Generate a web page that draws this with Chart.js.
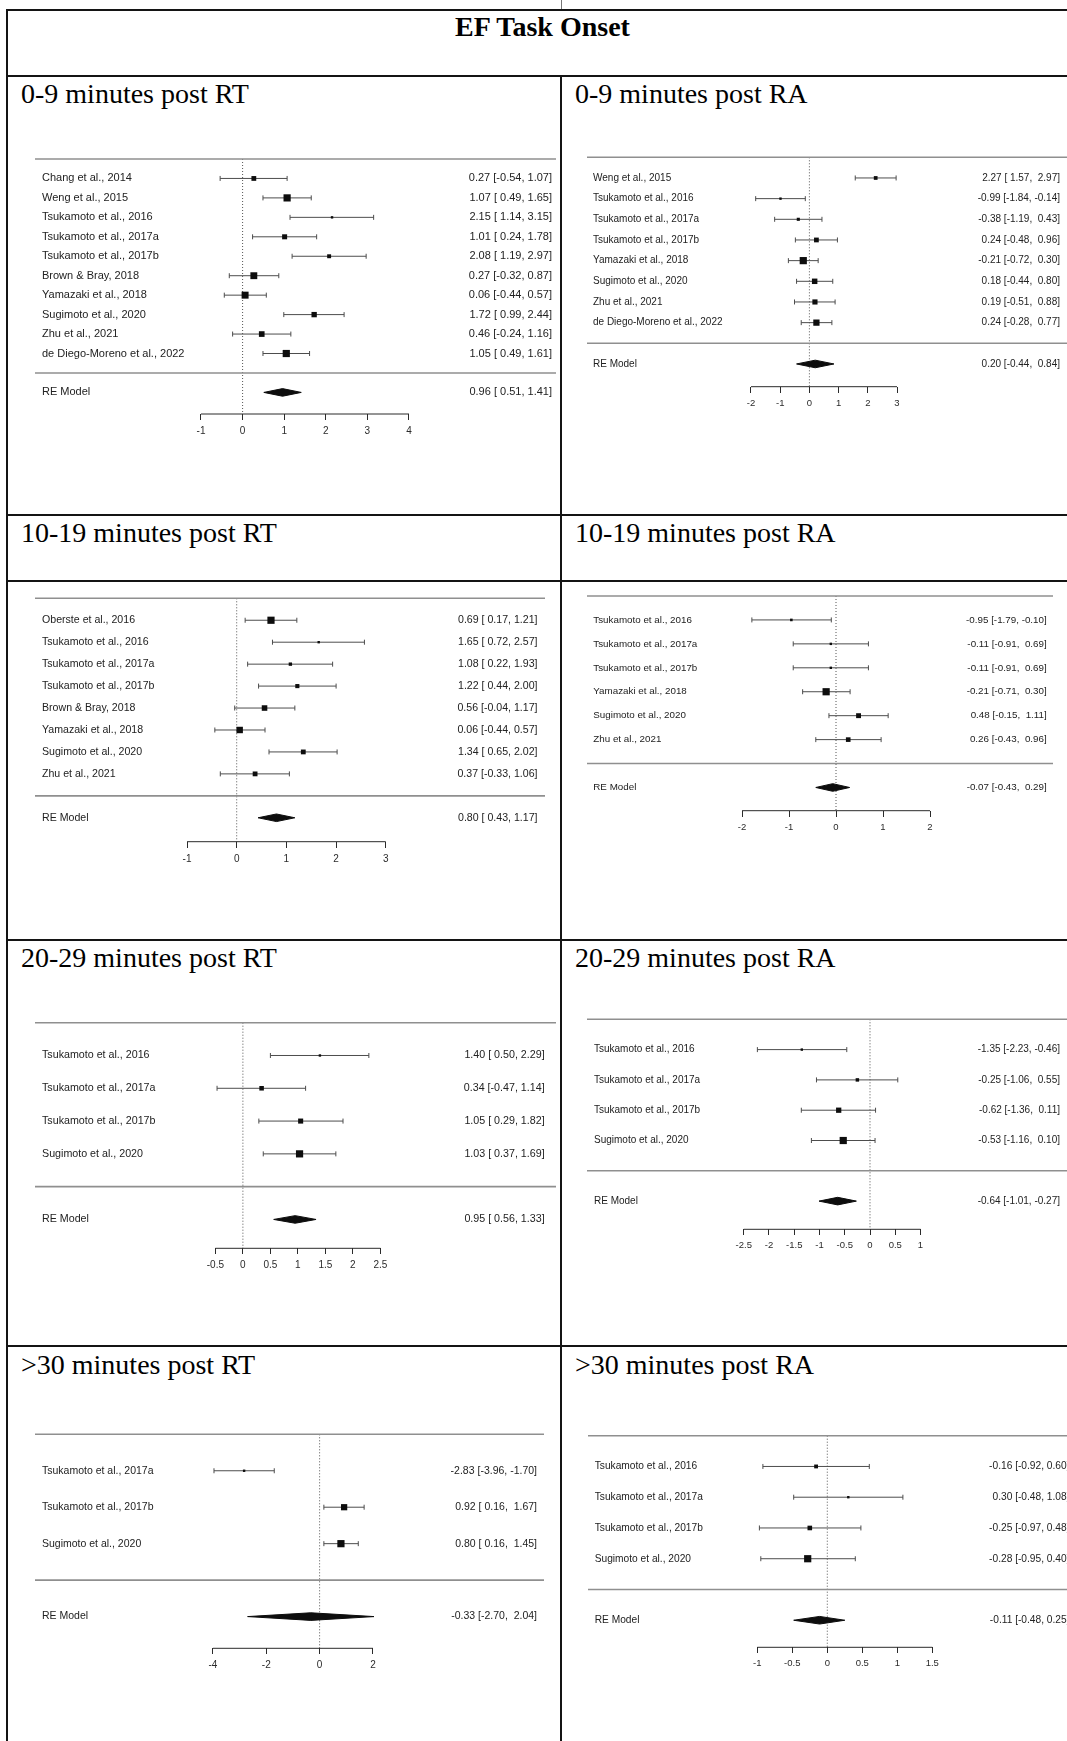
<!DOCTYPE html>
<html>
<head>
<meta charset="utf-8">
<title>EF Task Onset</title>
<script src="https://cdn.jsdelivr.net/npm/chart.js@4.4.1/dist/chart.umd.min.js"></script>
<style>
  html, body { margin: 0; padding: 0; background: #fff; }
  #page { position: relative; width: 1067px; height: 1741px; overflow: hidden; background: #fff; }
  .rule { position: absolute; background: #141414; }
  .title { position: absolute; font-family: "Liberation Serif", "Times New Roman", serif; font-size: 28px;
           line-height: 28px; color: #000; white-space: nowrap; }
  .head { font-weight: bold; text-align: center; }
  canvas { position: absolute; }
</style>
</head>
<body>
<div id="page"></div>
<script>
// ---------- data ----------
const sectionTitle = 'EF Task Onset';
const windowLabels = ['0-9 minutes', '10-19 minutes', '20-29 minutes', '>30 minutes'];
const conditionLabels = ['RT', 'RA'];

// 0-9 minutes post RT
const rt0Studies = ['Chang et al., 2014', 'Weng et al., 2015', 'Tsukamoto et al., 2016', 'Tsukamoto et al., 2017a',
  'Tsukamoto et al., 2017b', 'Brown & Bray, 2018', 'Yamazaki et al., 2018', 'Sugimoto et al., 2020',
  'Zhu et al., 2021', 'de Diego-Moreno et al., 2022'];
const rt0Effect = [0.27, 1.07, 2.15, 1.01, 2.08, 0.27, 0.06, 1.72, 0.46, 1.05];
const rt0Lower = [-0.54, 0.49, 1.14, 0.24, 1.19, -0.32, -0.44, 0.99, -0.24, 0.49];
const rt0Upper = [1.07, 1.65, 3.15, 1.78, 2.97, 0.87, 0.57, 2.44, 1.16, 1.61];
const rt0Weight = [9.4, 11.6, 7.2, 9.6, 8.6, 11.3, 11.4, 9.9, 10.2, 11.6];
const rt0Pooled = [0.96, 0.51, 1.41];
const rt0Ticks = [-1, 0, 1, 2, 3, 4];

// 0-9 minutes post RA
const ra0Studies = ['Weng et al., 2015', 'Tsukamoto et al., 2016', 'Tsukamoto et al., 2017a', 'Tsukamoto et al., 2017b',
  'Yamazaki et al., 2018', 'Sugimoto et al., 2020', 'Zhu et al., 2021', 'de Diego-Moreno et al., 2022'];
const ra0Effect = [2.27, -0.99, -0.38, 0.24, -0.21, 0.18, 0.19, 0.24];
const ra0Lower = [1.57, -1.84, -1.19, -0.48, -0.72, -0.44, -0.51, -0.28];
const ra0Upper = [2.97, -0.14, 0.43, 0.96, 0.30, 0.80, 0.88, 0.77];
const ra0Weight = [11.2, 9.5, 10.4, 12.5, 15.6, 13.4, 13.0, 14.4];
const ra0Pooled = [0.20, -0.44, 0.84];
const ra0Ticks = [-2, -1, 0, 1, 2, 3];

// 10-19 minutes post RT
const rt10Studies = ['Oberste et al., 2016', 'Tsukamoto et al., 2016', 'Tsukamoto et al., 2017a', 'Tsukamoto et al., 2017b',
  'Brown & Bray, 2018', 'Yamazaki et al., 2018', 'Sugimoto et al., 2020', 'Zhu et al., 2021'];
const rt10Effect = [0.69, 1.65, 1.08, 1.22, 0.56, 0.06, 1.34, 0.37];
const rt10Lower = [0.17, 0.72, 0.22, 0.44, -0.04, -0.44, 0.65, -0.33];
const rt10Upper = [1.21, 2.57, 1.93, 2.00, 1.17, 0.57, 2.02, 1.06];
const rt10Weight = [16.0, 9.0, 10.4, 11.5, 13.6, 14.9, 12.5, 12.5];
const rt10Pooled = [0.80, 0.43, 1.17];
const rt10Ticks = [-1, 0, 1, 2, 3];

// 10-19 minutes post RA
const ra10Studies = ['Tsukamoto et al., 2016', 'Tsukamoto et al., 2017a', 'Tsukamoto et al., 2017b',
  'Yamazaki et al., 2018', 'Sugimoto et al., 2020', 'Zhu et al., 2021'];
const ra10Effect = [-0.95, -0.11, -0.11, -0.21, 0.48, 0.26];
const ra10Lower = [-1.79, -0.91, -0.91, -0.71, -0.15, -0.43];
const ra10Upper = [-0.10, 0.69, 0.69, 0.30, 1.11, 0.96];
const ra10Weight = [13.6, 13.2, 13.2, 23.4, 18.5, 17.9];
const ra10Pooled = [-0.07, -0.43, 0.29];
const ra10Ticks = [-2, -1, 0, 1, 2];

// 20-29 minutes post RT
const rt20Studies = ['Tsukamoto et al., 2016', 'Tsukamoto et al., 2017a', 'Tsukamoto et al., 2017b', 'Sugimoto et al., 2020'];
const rt20Effect = [1.40, 0.34, 1.05, 1.03];
const rt20Lower = [0.50, -0.47, 0.29, 0.37];
const rt20Upper = [2.29, 1.14, 1.82, 1.69];
const rt20Weight = [21.3, 24.6, 25.4, 28.7];
const rt20Pooled = [0.95, 0.56, 1.33];
const rt20Ticks = [-0.5, 0, 0.5, 1, 1.5, 2, 2.5];

// 20-29 minutes post RA
const ra20Studies = ['Tsukamoto et al., 2016', 'Tsukamoto et al., 2017a', 'Tsukamoto et al., 2017b', 'Sugimoto et al., 2020'];
const ra20Effect = [-1.35, -0.25, -0.62, -0.53];
const ra20Lower = [-2.23, -1.06, -1.36, -1.16];
const ra20Upper = [-0.46, 0.55, 0.11, 0.10];
const ra20Weight = [21.5, 23.2, 26.1, 29.2];
const ra20Pooled = [-0.64, -1.01, -0.27];
const ra20Ticks = [-2.5, -2, -1.5, -1, -0.5, 0, 0.5, 1];

// >30 minutes post RT
const rt30Studies = ['Tsukamoto et al., 2017a', 'Tsukamoto et al., 2017b', 'Sugimoto et al., 2020'];
const rt30Effect = [-2.83, 0.92, 0.80];
const rt30Lower = [-3.96, 0.16, 0.16];
const rt30Upper = [-1.70, 1.67, 1.45];
const rt30Weight = [30.4, 34.3, 35.3];
const rt30Pooled = [-0.33, -2.70, 2.04];
const rt30Ticks = [-4, -2, 0, 2];

// >30 minutes post RA
const ra30Studies = ['Tsukamoto et al., 2016', 'Tsukamoto et al., 2017a', 'Tsukamoto et al., 2017b', 'Sugimoto et al., 2020'];
const ra30Effect = [-0.16, 0.30, -0.25, -0.28];
const ra30Lower = [-0.92, -0.48, -0.97, -0.95];
const ra30Upper = [0.60, 1.08, 0.48, 0.40];
const ra30Weight = [24.3, 22.8, 25.1, 27.8];
const ra30Pooled = [-0.11, -0.48, 0.25];
const ra30Ticks = [-1, -0.5, 0, 0.5, 1, 1.5];

// ---------- assembly ----------
const panels = [
  { studies: rt0Studies, effect: rt0Effect, lower: rt0Lower, upper: rt0Upper, weight: rt0Weight, pooled: rt0Pooled, ticks: rt0Ticks },
  { studies: ra0Studies, effect: ra0Effect, lower: ra0Lower, upper: ra0Upper, weight: ra0Weight, pooled: ra0Pooled, ticks: ra0Ticks },
  { studies: rt10Studies, effect: rt10Effect, lower: rt10Lower, upper: rt10Upper, weight: rt10Weight, pooled: rt10Pooled, ticks: rt10Ticks },
  { studies: ra10Studies, effect: ra10Effect, lower: ra10Lower, upper: ra10Upper, weight: ra10Weight, pooled: ra10Pooled, ticks: ra10Ticks },
  { studies: rt20Studies, effect: rt20Effect, lower: rt20Lower, upper: rt20Upper, weight: rt20Weight, pooled: rt20Pooled, ticks: rt20Ticks },
  { studies: ra20Studies, effect: ra20Effect, lower: ra20Lower, upper: ra20Upper, weight: ra20Weight, pooled: ra20Pooled, ticks: ra20Ticks },
  { studies: rt30Studies, effect: rt30Effect, lower: rt30Lower, upper: rt30Upper, weight: rt30Weight, pooled: rt30Pooled, ticks: rt30Ticks },
  { studies: ra30Studies, effect: ra30Effect, lower: ra30Lower, upper: ra30Upper, weight: ra30Weight, pooled: ra30Pooled, ticks: ra30Ticks }
];

// Page frame of each forest plot: horizontal extent of the separator rules, y of the top rule and of the
// effect axis, rows between pooled estimate and axis, pixel of zero, pixels per unit, text sizes/insets.
const frames = [
  { left: 35,  right: 556,  top: 159,    axis: 414,    tail: 1.11, zero: 242.6, unit: 41.6,  text: 11,   tick: 10,  labelX: 42,    valueX: 552 },
  { left: 587, right: 1075, top: 157.3,  axis: 386.7,  tail: 1.10, zero: 809.4, unit: 29.2,  text: 10,   tick: 9.5, labelX: 593,   valueX: 1060 },
  { left: 35,  right: 545,  top: 598.3,  axis: 841.7,  tail: 1.09, zero: 236.7, unit: 49.7,  text: 10.6, tick: 10,  labelX: 42,    valueX: 537.5 },
  { left: 587, right: 1053, top: 596,    axis: 810.7,  tail: 0.97, zero: 836,   unit: 47,    text: 9.8,  tick: 9.5, labelX: 593.3, valueX: 1046.7 },
  { left: 35,  right: 556,  top: 1022.7, axis: 1248.3, tail: 0.88, zero: 242.9, unit: 55,    text: 10.7, tick: 10,  labelX: 42,    valueX: 544.6 },
  { left: 587, right: 1075, top: 1019.3, axis: 1229.3, tail: 0.93, zero: 870,   unit: 50.5,  text: 10,   tick: 9.5, labelX: 594,   valueX: 1060 },
  { left: 35,  right: 544,  top: 1434.3, axis: 1648.3, tail: 0.87, zero: 319.6, unit: 26.67, text: 10.5, tick: 10,  labelX: 42,    valueX: 537 },
  { left: 588, right: 1085, top: 1435.7, axis: 1647.3, tail: 0.88, zero: 827.3, unit: 70,    text: 10.2, tick: 9.5, labelX: 594.7, valueX: 1069.5 }
];

const page = document.getElementById('page');

// ---------- table grid and captions ----------
function rule(x, y, w, h, color) {
  const d = document.createElement('div');
  d.className = 'rule';
  Object.assign(d.style, { left: x + 'px', top: y + 'px', width: w + 'px', height: h + 'px' });
  if (color) d.style.background = color;
  page.appendChild(d);
}
rule(6, 9, 1074, 2);          // top border
rule(6, 75, 1074, 2);         // under heading
rule(6, 514, 1074, 2);
rule(6, 580, 1074, 2);
rule(6, 939, 1074, 2);
rule(6, 1345, 1074, 2);
rule(6, 9, 2, 1740);          // left border
rule(560, 75, 2, 1670);       // column divider
rule(561, 0, 1, 9, '#777');

function caption(text, x, y, cls) {
  const d = document.createElement('div');
  d.className = 'title' + (cls ? ' ' + cls : '');
  d.textContent = text;
  d.style.left = x + 'px';
  d.style.top = y + 'px';
  page.appendChild(d);
  return d;
}
const head = caption(sectionTitle, 6, 13.3, 'head');
head.style.width = '1073px';
const captionTops = [79.5, 518.5, 944, 1350.5];
windowLabels.forEach((w, r) => {
  conditionLabels.forEach((c, col) => {
    caption(w + ' post ' + c, col === 0 ? 21 : 575, captionTops[r]);
  });
});

// ---------- forest plots ----------
function fmt(v, pad) {
  const s = Math.abs(v).toFixed(2);
  return v < 0 ? '-' + s : (pad ? ' ' + s : s);
}

function markerRadius(w, ws) {
  const lo = Math.min(...ws), hi = Math.max(...ws);
  const t = hi > lo ? (w - lo) / (hi - lo) : 1;
  const side = 2.4 + 4.8 * t;
  return side / Math.SQRT2;   // 'rect' points have side = radius * sqrt(2)
}

const rowText = {
  id: 'rowText',
  afterDatasetsDraw(chart, args, opts) {
    const { ctx, chartArea, scales: { y } } = chart;
    ctx.save();
    ctx.font = opts.size + 'px "Liberation Sans", Arial, sans-serif';
    ctx.fillStyle = '#222';
    ctx.textBaseline = 'middle';
    opts.rows.forEach(r => {
      const py = y.getPixelForValue(r.y);
      ctx.textAlign = 'left';
      ctx.fillText(r.label, chartArea.left + opts.labelInset, py);
      ctx.textAlign = 'right';
      ctx.fillText(r.value, chartArea.right - opts.valueInset, py);
    });
    ctx.restore();
  }
};

const ink = '#0d0d0d';
const ciColor = '#4d4d4d';
const sepColor = '#8f8f8f';

panels.forEach((p, i) => {
  const f = frames[i];
  const k = p.studies.length;
  const yPooled = k + 2;
  const yAxis = yPooled + f.tail;
  const rowPx = (f.axis - f.top) / yAxis;
  const axisH = 30;

  const canvasTop = Math.round(f.top - 0.8 * rowPx);
  const canvasLeft = Math.round(f.left);
  const W = Math.round(f.right - f.left);
  const areaH = Math.round(f.axis) - canvasTop;
  const yMin = -(f.top - canvasTop) / rowPx;
  const yMax = yMin + areaH / rowPx;
  const xMin = (canvasLeft - f.zero) / f.unit;
  const xMax = xMin + W / f.unit;

  const padLo = p.lower.concat([p.pooled[1]]).some(v => v < 0);
  const padHi = p.upper.concat([p.pooled[2]]).some(v => v < 0);
  const ci = (e, l, u) => fmt(e, false) + ' [' + fmt(l, padLo) + ', ' + fmt(u, padHi) + ']';

  const rows = p.studies.map((s, j) => ({ y: j + 1, label: s, value: ci(p.effect[j], p.lower[j], p.upper[j]) }));
  rows.push({ y: yPooled, label: 'RE Model', value: ci(p.pooled[0], p.pooled[1], p.pooled[2]) });

  const datasets = [];
  // study estimates (drawn on top)
  datasets.push({
    data: p.effect.map((e, j) => ({ x: e, y: j + 1 })),
    showLine: false, pointStyle: 'rect',
    pointRadius: p.weight.map(w => markerRadius(w, p.weight)),
    pointBackgroundColor: ink, pointBorderWidth: 0, clip: false
  });
  // pooled estimate diamond (upper half filled down to lower half)
  const h = 3.8 / rowPx;
  const [pe, pl, pu] = p.pooled;
  datasets.push({
    data: [{ x: pl, y: yPooled }, { x: pe, y: yPooled - h }, { x: pu, y: yPooled }],
    borderColor: ink, borderWidth: 1, pointRadius: 0, fill: '+1', backgroundColor: ink, clip: false
  });
  datasets.push({
    data: [{ x: pl, y: yPooled }, { x: pe, y: yPooled + h }, { x: pu, y: yPooled }],
    borderColor: ink, borderWidth: 1, pointRadius: 0, fill: false, clip: false
  });
  // confidence intervals with end caps
  p.studies.forEach((s, j) => {
    datasets.push({
      data: [{ x: p.lower[j], y: j + 1 }, { x: p.upper[j], y: j + 1 }],
      borderColor: ciColor, borderWidth: 1, pointStyle: 'line', pointRotation: 90,
      pointRadius: 2.5, pointBorderWidth: 1, pointBorderColor: ciColor, fill: false, clip: false
    });
  });
  // effect axis line between the outer ticks
  datasets.push({
    data: [{ x: p.ticks[0], y: yAxis }, { x: p.ticks[p.ticks.length - 1], y: yAxis }],
    borderColor: '#2b2b2b', borderWidth: 1, pointRadius: 0, fill: false, clip: false
  });
  // separator rules above the studies and above the pooled row
  [0, k + 1].forEach(yv => {
    datasets.push({
      data: [{ x: xMin, y: yv }, { x: xMax, y: yv }],
      borderColor: sepColor, borderWidth: 1.6, pointRadius: 0, fill: false, clip: false
    });
  });
  // reference line at zero
  datasets.push({
    data: [{ x: 0, y: 0 }, { x: 0, y: yAxis }],
    borderColor: '#555', borderWidth: 1, borderDash: [1, 2], pointRadius: 0, fill: false, clip: false
  });

  const canvas = document.createElement('canvas');
  canvas.width = W;
  canvas.height = areaH + axisH;
  canvas.style.left = canvasLeft + 'px';
  canvas.style.top = canvasTop + 'px';
  canvas.style.width = W + 'px';
  canvas.style.height = (areaH + axisH) + 'px';
  page.appendChild(canvas);

  new Chart(canvas, {
    type: 'line',
    data: { datasets },
    options: {
      responsive: false,
      maintainAspectRatio: false,
      devicePixelRatio: 1,
      animation: false,
      events: [],
      layout: { padding: 0, autoPadding: false },
      elements: { line: { tension: 0, borderCapStyle: 'butt' } },
      plugins: {
        legend: { display: false },
        tooltip: { enabled: false },
        rowText: { rows, size: f.text, labelInset: f.labelX - canvasLeft, valueInset: canvasLeft + W - f.valueX }
      },
      scales: {
        x: {
          type: 'linear', min: xMin, max: xMax,
          afterBuildTicks: scale => { scale.ticks = p.ticks.map(v => ({ value: v })); },
          afterFit: scale => { scale.height = axisH; },
          border: { display: false },
          grid: { display: true, drawOnChartArea: false, drawTicks: true, tickLength: 6, color: '#2b2b2b', lineWidth: 1 },
          ticks: {
            autoSkip: false, maxRotation: 0, minRotation: 0, padding: 5, color: '#2b2b2b',
            font: { family: '"Liberation Sans", Arial, sans-serif', size: f.tick },
            callback: v => String(v)
          }
        },
        y: { type: 'linear', display: false, reverse: true, min: yMin, max: yMax }
      }
    },
    plugins: [rowText]
  });
});
</script>
</body>
</html>
